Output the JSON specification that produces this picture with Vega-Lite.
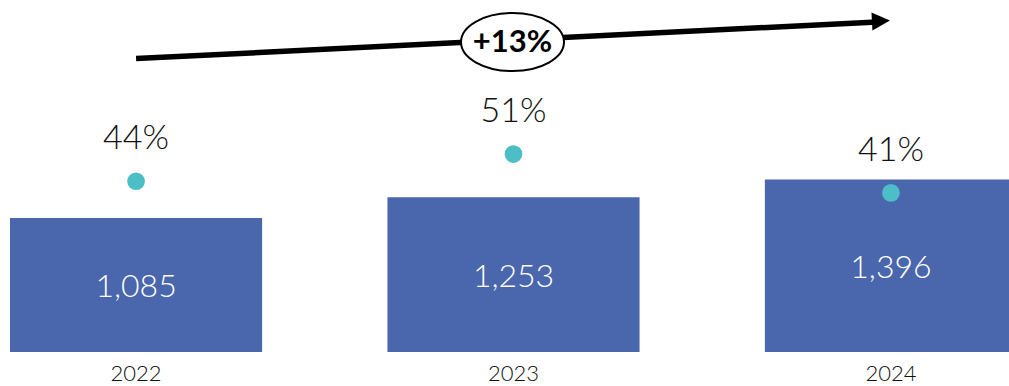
{
  "$schema": "https://vega.github.io/schema/vega-lite/v6.json",
  "autosize": "none",
  "width": 1027,
  "height": 352,
  "padding": {"left": 0, "top": 0, "right": 0, "bottom": 34},
  "background": "white",
  "config": {"view": {"stroke": null}, "font": "Lato"},
  "datasets": {
    "main": [
      {"year": "2022", "value": 1085, "label": "1,085", "pct": 44, "pctLabel": "44%"},
      {"year": "2023", "value": 1253, "label": "1,253", "pct": 51, "pctLabel": "51%"},
      {"year": "2024", "value": 1396, "label": "1,396", "pct": 41, "pctLabel": "41%"}
    ],
    "trend": [
      {"from": "2022", "to": "2024", "start": 2376, "end": 2672, "head": 2680, "mid": "2023", "midValue": 2510, "text": "+13%"}
    ]
  },
  "encoding": {
    "x": {
      "field": "year", "type": "ordinal",
      "scale": {"domain": ["2022", "2023", "2024"], "paddingInner": 0.332, "paddingOuter": 0.0265},
      "axis": {"title": null, "domain": false, "ticks": false, "labelAngle": 0, "labelFontSize": 22, "labelColor": "#111111", "labelPadding": 11, "labelFont": "Lato", "labelFontWeight": 300}
    }
  },
  "layer": [
    {
      "data": {"name": "main"},
      "mark": {"type": "bar", "color": "#4A66AC"},
      "encoding": {
        "y": {"field": "value", "type": "quantitative", "scale": {"domain": [0, 2850.2], "nice": false, "zero": true}, "axis": null}
      }
    },
    {
      "data": {"name": "main"},
      "mark": {"type": "text", "color": "white", "fontSize": 32, "fontWeight": 300, "baseline": "middle", "dy": 2},
      "encoding": {
        "y": {"field": "value", "type": "quantitative", "scale": {"domain": [0, 5700.4], "nice": false}, "axis": null},
        "text": {"field": "label"}
      }
    },
    {
      "data": {"name": "main"},
      "mark": {"type": "circle", "color": "#4BBEC6", "opacity": 1, "size": 314},
      "encoding": {
        "y": {"field": "pct", "type": "quantitative", "scale": {"domain": [0, 90.7], "nice": false}, "axis": null}
      }
    },
    {
      "data": {"name": "main"},
      "mark": {"type": "text", "color": "#111111", "fontSize": 34, "fontWeight": 300, "baseline": "middle", "dy": -42},
      "encoding": {
        "y": {"field": "pct", "type": "quantitative", "scale": {"domain": [0, 90.7], "nice": false}, "axis": null},
        "text": {"field": "pctLabel"}
      }
    },
    {
      "data": {"name": "trend"},
      "mark": {"type": "rule", "color": "black", "strokeWidth": 5.5, "x2Offset": -14},
      "encoding": {
        "x": {"field": "from", "type": "ordinal"},
        "x2": {"field": "to"},
        "y": {"field": "start", "type": "quantitative", "scale": {"domain": [0, 2850.2], "nice": false}, "axis": null},
        "y2": {"field": "end"}
      }
    },
    {
      "data": {"name": "trend"},
      "mark": {"type": "point", "shape": "M -1 -1 L 1 0 L -1 1 Z", "filled": true, "color": "black", "opacity": 1, "size": 324, "xOffset": -10, "angle": 357},
      "encoding": {
        "x": {"field": "to", "type": "ordinal"},
        "y": {"field": "head", "type": "quantitative", "scale": {"domain": [0, 2850.2], "nice": false}, "axis": null}
      }
    },
    {
      "data": {"name": "trend"},
      "mark": {"type": "point", "shape": "M -1 0 C -1 -0.311 -0.552 -0.563 0 -0.563 C 0.552 -0.563 1 -0.311 1 0 C 1 0.311 0.552 0.563 0 0.563 C -0.552 0.563 -1 0.311 -1 0 Z", "filled": true, "fill": "white", "stroke": "black", "strokeWidth": 2, "opacity": 1, "size": 10609, "xOffset": -1},
      "encoding": {
        "x": {"field": "mid", "type": "ordinal"},
        "y": {"field": "midValue", "type": "quantitative", "scale": {"domain": [0, 2850.2], "nice": false}, "axis": null}
      }
    },
    {
      "data": {"name": "trend"},
      "mark": {"type": "text", "color": "black", "fontSize": 31, "fontWeight": "bold", "baseline": "middle", "dy": 1, "xOffset": -1},
      "encoding": {
        "x": {"field": "mid", "type": "ordinal"},
        "y": {"field": "midValue", "type": "quantitative", "scale": {"domain": [0, 2850.2], "nice": false}, "axis": null},
        "text": {"field": "text"}
      }
    }
  ],
  "resolve": {"scale": {"y": "independent"}}
}
